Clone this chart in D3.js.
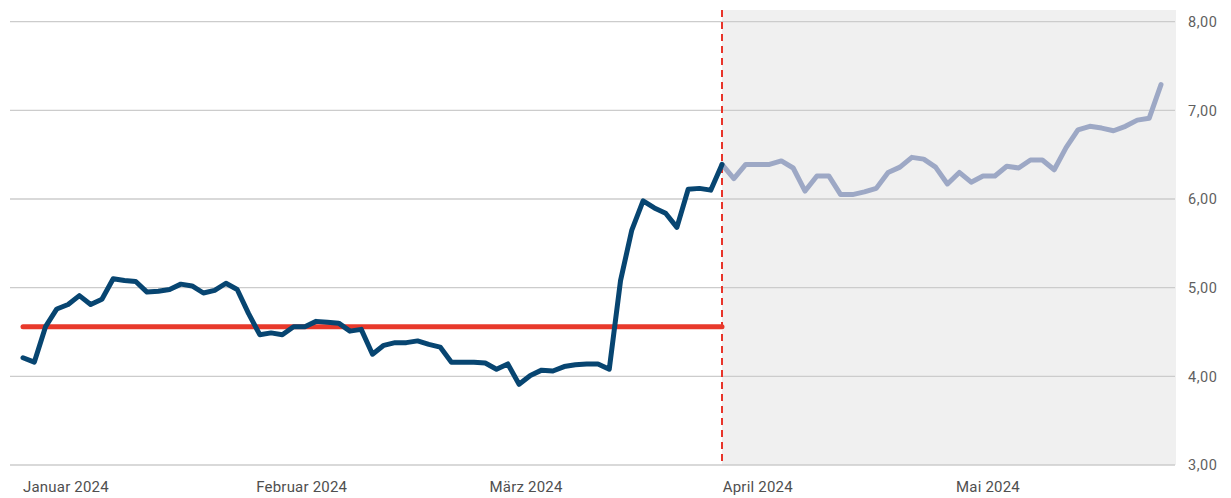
<!DOCTYPE html>
<html>
<head>
<meta charset="utf-8">
<script src="https://cdn.jsdelivr.net/npm/d3@7"></script>
<style>
  html, body { margin: 0; padding: 0; background: #ffffff; }
  svg { display: block; }
  text { font-family: Roboto, "DejaVu Sans", sans-serif; }
</style>
</head>
<body>
<svg id="chart" width="1231" height="498"></svg>
<script>
// ---- Data ----
const monthLabels = ["Januar 2024", "Februar 2024", "März 2024", "April 2024", "Mai 2024"];
const yTicks = [3, 4, 5, 6, 7, 8];

// Historical series (dark blue)
const historyValues = [4.21, 4.16, 4.56, 4.76, 4.81, 4.91, 4.81, 4.87, 5.10, 5.08,
  5.07, 4.95, 4.96, 4.98, 5.04, 5.02, 4.94, 4.97, 5.05, 4.98,
  4.71, 4.47, 4.49, 4.47, 4.56, 4.56, 4.62, 4.61, 4.60, 4.51,
  4.53, 4.25, 4.35, 4.38, 4.38, 4.40, 4.36, 4.33, 4.16, 4.16,
  4.16, 4.15, 4.08, 4.14, 3.91, 4.01, 4.07, 4.06, 4.11, 4.13,
  4.14, 4.14, 4.08, 5.08, 5.65, 5.98, 5.90, 5.84, 5.68, 6.11,
  6.12, 6.10, 6.39];

// Projection series (light)
const projectionValues = [6.39, 6.23, 6.39, 6.39, 6.39, 6.43, 6.35, 6.09, 6.26, 6.26,
  6.05, 6.05, 6.08, 6.12, 6.30, 6.36, 6.47, 6.45, 6.36, 6.17,
  6.30, 6.19, 6.26, 6.26, 6.37, 6.35, 6.44, 6.44, 6.33, 6.58,
  6.78, 6.82, 6.80, 6.77, 6.82, 6.89, 6.91, 7.29];

// Reference level (red)
const referenceLevel = 4.56;

// ---- Layout ----
const svg = d3.select("#chart");
const plotLeft = 10, plotRight = 1176, plotTop = 10, plotBottom = 465;
const lineStart = 23, splitX = 722, lineEnd = 1161;

const nHist = historyValues.length;
const nProj = projectionValues.length;

const x = d3.scaleLinear()
  .domain([0, nHist - 1, nHist - 1 + nProj - 1])
  .range([lineStart, splitX, lineEnd]);

const y = d3.scaleLinear().domain([3, 8]).range([465, 21.7]);

const xLabels = d3.scalePoint().domain(monthLabels).range([lineStart, lineStart + 4 * 233.25]);

// Shaded projection area
svg.append("rect")
  .attr("x", x(nHist - 1))
  .attr("y", plotTop)
  .attr("width", plotRight - x(nHist - 1))
  .attr("height", y(3) - plotTop)
  .attr("fill", "#f0f0f0");

// Gridlines
svg.append("g").selectAll("line").data(yTicks).join("line")
  .attr("x1", plotLeft).attr("x2", plotRight - 1)
  .attr("y1", d => y(d)).attr("y2", d => y(d))
  .attr("stroke", "#cccccc").attr("stroke-width", 1.3);

// Right axis labels
const fmt = d => d3.format(".2f")(d).replace(".", ",");
svg.append("g").selectAll("text").data(yTicks).join("text")
  .attr("x", 1188).attr("y", d => y(d))
  .attr("dy", "0.36em")
  .attr("font-size", 14.5)
  .attr("letter-spacing", 0.5)
  .attr("fill", "#5f5f5f")
  .text(fmt);

// Bottom month labels
svg.append("g").selectAll("text").data(monthLabels).join("text")
  .attr("x", d => xLabels(d)).attr("y", 492)
  .attr("font-size", 15)
  .attr("letter-spacing", 0.2)
  .attr("fill", "#4f4f4f")
  .text(d => d);

// Red dashed divider
svg.append("line")
  .attr("x1", x(nHist - 1)).attr("x2", x(nHist - 1))
  .attr("y1", plotTop).attr("y2", y(3))
  .attr("stroke", "#e8342a").attr("stroke-width", 2)
  .attr("stroke-dasharray", "7,5");

// Red reference line
svg.append("line")
  .attr("x1", x(0)).attr("x2", x(nHist - 1))
  .attr("y1", y(referenceLevel)).attr("y2", y(referenceLevel))
  .attr("stroke", "#e8392b").attr("stroke-width", 5)
  .attr("stroke-linecap", "round");

const line = d3.line().x(d => x(d.i)).y(d => y(d.v));

// Projection line
svg.append("path")
  .datum(projectionValues.map((v, k) => ({ i: nHist - 1 + k, v })))
  .attr("d", line)
  .attr("fill", "none")
  .attr("stroke", "#9da8c5")
  .attr("stroke-width", 5)
  .attr("stroke-linejoin", "round")
  .attr("stroke-linecap", "round");

// History line
svg.append("path")
  .datum(historyValues.map((v, i) => ({ i, v })))
  .attr("d", line)
  .attr("fill", "none")
  .attr("stroke", "#074571")
  .attr("stroke-width", 5)
  .attr("stroke-linejoin", "round")
  .attr("stroke-linecap", "round");
</script>
</body>
</html>
